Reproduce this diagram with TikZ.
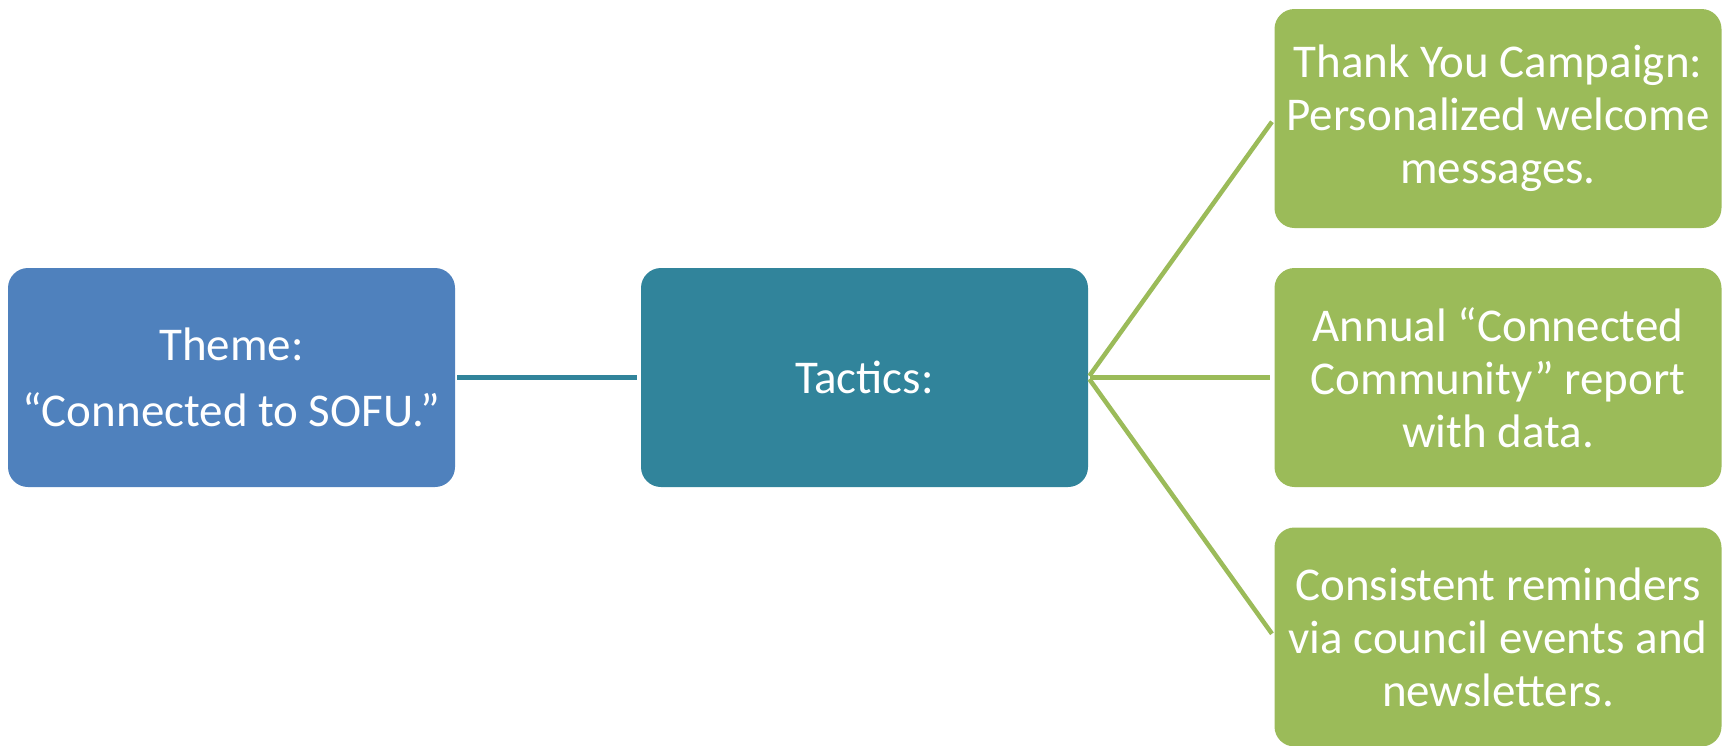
\documentclass[tikz,border=0pt]{standalone}
\usepackage{fontspec}
\setmainfont{Carlito}
\definecolor{themeblue}{HTML}{4F81BD}
\definecolor{tacteal}{HTML}{31849B}
\definecolor{leafgreen}{HTML}{9BBB59}
\begin{document}
\begin{tikzpicture}[x=1pt,y=-1pt,
  box/.style={rounded corners=20pt, minimum width=447pt, minimum height=219pt,
    inner sep=0pt, text=white, align=center, font=\fontsize{47}{53}\selectfont},
  link/.style={line width=4.5pt, shorten <=2pt, shorten >=4pt}]
\useasboundingbox (0,0) rectangle (1727,745);
\node[box, fill=themeblue, font=\fontsize{47}{66}\selectfont] (theme) at (231.5,377.5) {Theme:\\“Connected to SOFU.”};
\node[box, fill=tacteal] (tactics) at (864.5,377.5) {Tactics:};
\node[box, fill=leafgreen] (g1) at (1498,118.5) {Thank You Campaign:\\Personalized welcome\\messages.};
\node[box, fill=leafgreen] (g2) at (1498,377.5) {Annual “Connected\\Community” report\\with data.};
\node[box, fill=leafgreen] (g3) at (1498,637) {Consistent reminders\\via council events and\\newsletters.};
\draw[link, tacteal] (theme.east) -- (tactics.west);
\draw[link, leafgreen] (tactics.east) -- (g1.west);
\draw[link, leafgreen] (tactics.east) -- (g2.west);
\draw[link, leafgreen] (tactics.east) -- (g3.west);
\end{tikzpicture}
\end{document}
